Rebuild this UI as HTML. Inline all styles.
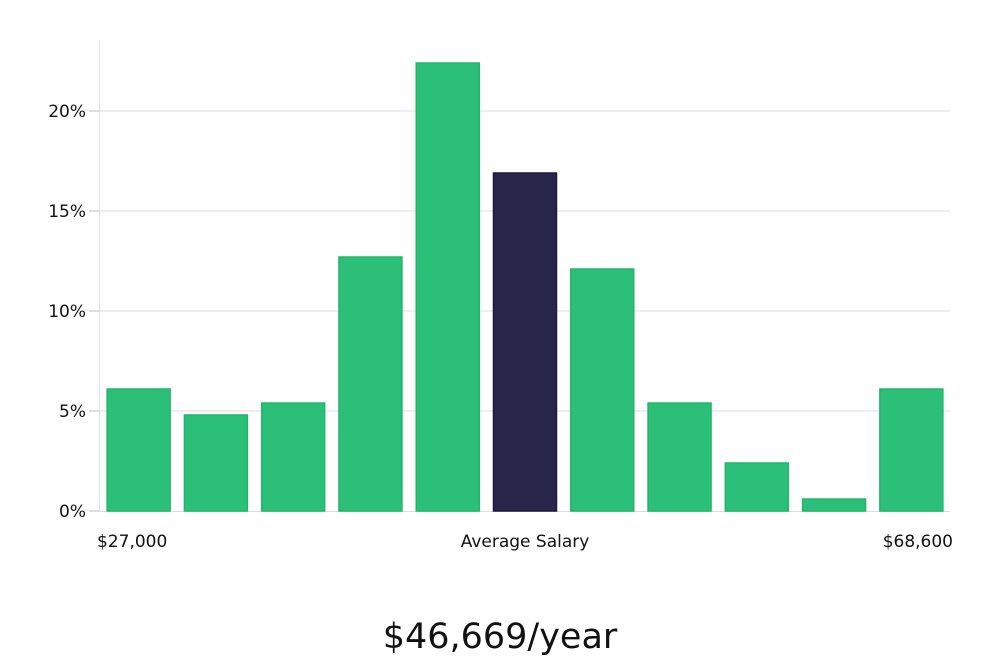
<!DOCTYPE html>
<html><head><meta charset="utf-8"><style>
html,body{margin:0;padding:0;background:#fff;width:1000px;height:660px;overflow:hidden}
text{font-family:"DejaVu Sans","Liberation Sans",sans-serif;fill:#111}
</style></head><body>
<svg id="chart" width="1000" height="660" xmlns="http://www.w3.org/2000/svg"></svg>
<script>
const categories=["b1","b2","b3","b4","b5","b6","b7","b8","b9","b10","b11"];
const values=[6.1,4.8,5.4,12.7,22.4,16.9,12.1,5.4,2.4,0.6,6.1];
const highlight=[false,false,false,false,false,true,false,false,false,false,false];
const yTicks=[0,5,10,15,20];
const yTickLabels=["0%","5%","10%","15%","20%"];
const xLabels=["$27,000","Average Salary","$68,600"];
const title="$46,669/year";

const svg=document.getElementById('chart');
const NS="http://www.w3.org/2000/svg";
const x0=100,x1=950,y0=511,pxPerUnit=20;
const band=(x1-x0)/categories.length,barW=63,pad=(band-barW)/2;
const xPos=i=>x0+i*band+pad;
const yPos=v=>y0-v*pxPerUnit;
function mk(tag,attrs,parent){const e=document.createElementNS(NS,tag);for(const k in attrs)e.setAttribute(k,attrs[k]);(parent||svg).appendChild(e);return e;}

yTicks.forEach((t,i)=>{
  if(t>0){const g=mk('line',{x1:x0,x2:x1,y1:yPos(t),y2:yPos(t),stroke:'#dcdcdc','stroke-width':1});
  
  }
  const tk=mk('line',{x1:x0-11,x2:x0,y1:yPos(t),y2:yPos(t),stroke:'#bbb','stroke-width':1});
  
  
  const tx=mk('text',{x:x0-14,y:yPos(t)+6,'text-anchor':'end','font-size':17});
  tx.textContent=yTickLabels[i];
  
  
});
const ax=mk('line',{x1:x0-0.5,x2:x0-0.5,y1:40,y2:y0,stroke:'#e0e0e0','stroke-width':1});


const bx=mk('line',{x1:x0,x2:x1,y1:y0+0.5,y2:y0+0.5,stroke:'#dcdcdc','stroke-width':1});



values.forEach((v,i)=>{
  const c=highlight[i]?'#28254a':'#2bbf78';
  const s=highlight[i]?'#1c1a3a':'#22b56e';
  const r=mk('rect',{x:xPos(i),y:yPos(v),width:barW,height:v*pxPerUnit,fill:c,stroke:s,'stroke-width':1.5});
  
  
});

[[97,'start'],[525,'middle'],[953,'end']].forEach((p,i)=>{
  const t=mk('text',{x:p[0],y:547,'text-anchor':p[1],'font-size':17});
  t.textContent=xLabels[i];
  
  
});
const tt=mk('text',{x:500,y:648,'text-anchor':'middle','font-size':35});
tt.textContent=title;


</script>
</body></html>
